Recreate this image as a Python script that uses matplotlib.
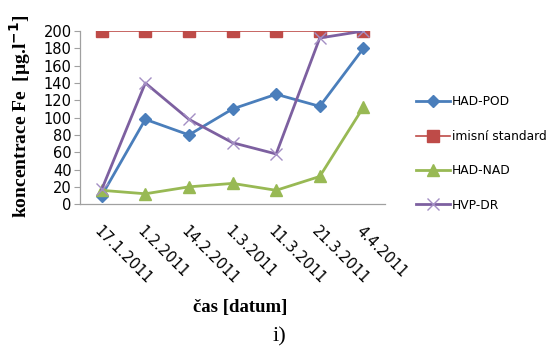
import matplotlib
matplotlib.use("Agg")
import matplotlib.pyplot as plt

dates = ["17.1.2011", "1.2.2011", "14.2.2011", "1.3.2011", "11.3.2011", "21.3.2011", "4.4.2011"]
had_pod = [10, 98, 80, 110, 127, 113, 180]
imisni_standard = [200, 200, 200, 200, 200, 200, 200]
had_nad = [16, 12, 20, 24, 16, 32, 112]
hvp_dr = [17, 140, 98, 71, 58, 192, 200]
y_ticks = list(range(0, 201, 20))

sans = ["DejaVu Sans"]
serif = ["Liberation Serif", "DejaVu Serif"]

fig = plt.figure(figsize=(5.55, 3.49), dpi=100)
ax = fig.add_axes([0.144, 0.415, 0.55, 0.496])

x = range(len(dates))
ax.plot(x, had_pod, color="#4A7EBB", lw=2.0, marker="D", ms=6, label="HAD-POD", zorder=4)
ax.plot(x, imisni_standard, color="#BE4B48", lw=1.2, marker="s", ms=9, label="imisní standard", zorder=3)
ax.plot(x, had_nad, color="#98B954", lw=2.0, marker="^", ms=8, label="HAD-NAD", zorder=4)
ax.plot(x, hvp_dr, color="#7D60A0", lw=2.0, marker="x", ms=8, mew=1.0,
        mec="#A48FC4", label="HVP-DR", zorder=5)

ax.set_xlim(-0.5, len(dates) - 0.5)
ax.set_ylim(0, 200)
ax.set_yticks(y_ticks)
ax.set_yticklabels([str(v) for v in y_ticks], fontfamily=sans, fontsize=10.5)
ax.set_xticks(list(x))
ax.set_xticklabels(dates, fontfamily=sans, fontsize=10.5, rotation=-45,
                   ha="left", va="top", rotation_mode="anchor")
ax.tick_params(axis="x", length=0, pad=14)
ax.tick_params(axis="y", length=4, width=0.8, color="#A0A0A0", pad=2)

for side in ("top", "right"):
    ax.spines[side].set_visible(False)
for side in ("left", "bottom"):
    ax.spines[side].set_color("#A0A0A0")
    ax.spines[side].set_linewidth(0.9)

fig.text(0.036, 0.668, "koncentrace Fe  [µg.l$^{\\mathbf{-1}}$]", rotation=90,
         fontfamily=serif, fontweight="bold", fontsize=14, ha="center", va="center")
fig.text(0.432, 0.12, "čas [datum]", fontfamily=serif, fontweight="bold",
         fontsize=13.5, ha="center", va="center")
fig.text(0.503, 0.034, "i)", fontfamily=serif, fontsize=16, ha="center", va="center")

leg = fig.legend(loc="center left", bbox_to_anchor=(0.73, 0.56), frameon=False,
                 prop={"family": sans, "size": 8.8}, labelspacing=1.75,
                 handlelength=2.8, handletextpad=0.15)

fig.savefig("out.png", dpi=100)
